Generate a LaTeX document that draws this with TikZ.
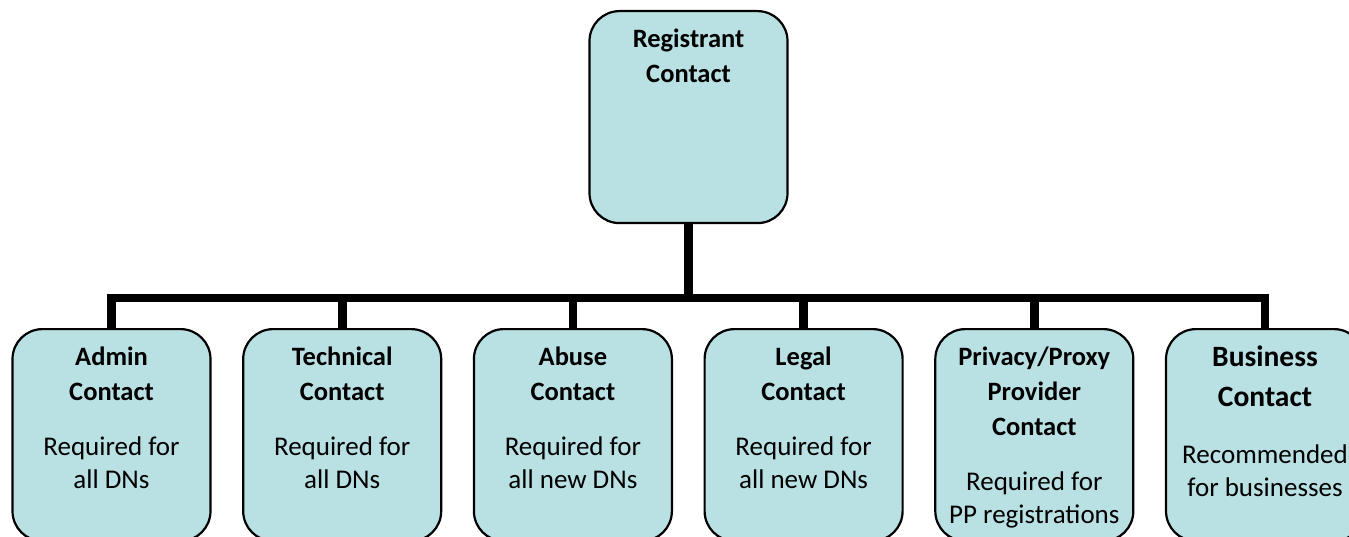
\documentclass[tikz,border=0pt]{standalone}
\usepackage{fontspec}
\setmainfont{Carlito}
\definecolor{boxfill}{HTML}{B9E0E3}
\begin{document}
\begin{tikzpicture}[x=1pt,y=-1pt,
  box/.style={draw=black, line width=2.2pt, fill=boxfill, rounded corners=30pt,
    minimum width=198pt, minimum height=212pt, anchor=north, inner sep=0pt},
  conn/.style={draw=black, line width=8.8pt},
  title/.style={font=\bfseries\fontsize{26.5}{35}\selectfont, align=center, anchor=north, inner sep=0pt},
  bigtitle/.style={font=\bfseries\fontsize{29.5}{40}\selectfont, align=center, anchor=north, inner sep=0pt},
  body/.style={font=\fontsize{27}{33}\selectfont, align=center, anchor=north, inner sep=0pt}]
\useasboundingbox (0,0) rectangle (1349,537);
\clip (0,0) rectangle (1349,537);

% root box
\node[box] (reg) at (688.5,10) {};
\node[title] (regT) at ([yshift=-18.5pt]reg.north) {Registrant\\Contact};

% child boxes
\node[box] (admin) at (111.5,328) {};
\node[box] (tech)  at (342.2,328) {};
\node[box] (abuse) at (572.9,328) {};
\node[box] (legal) at (803.6,328) {};
\node[box] (pp)    at (1034.3,328) {};
\node[box] (biz)   at (1265,328) {};

% connectors
\coordinate (bus) at (688.5,298);
\draw[conn] (reg.south) -- (bus);
\draw[conn] (admin.north) -- (admin.north |- bus) -- (biz.north |- bus) -- (biz.north);
\foreach \n in {tech,abuse,legal,pp}
  \draw[conn] (\n.north |- bus) -- (\n.north);

% labels
\node[title] (adminT) at ([yshift=-18.5pt]admin.north) {Admin\\Contact};
\node[body]  (adminB) at ([yshift=-108.5pt]admin.north) {Required for\\all DNs};
\node[title] (techT) at ([yshift=-18.5pt]tech.north) {Technical\\Contact};
\node[body]  (techB) at ([yshift=-108.5pt]tech.north) {Required for\\all DNs};
\node[title] (abuseT) at ([yshift=-18.5pt]abuse.north) {Abuse\\Contact};
\node[body]  (abuseB) at ([yshift=-108.5pt]abuse.north) {Required for\\all new DNs};
\node[title] (legalT) at ([yshift=-18.5pt]legal.north) {Legal\\Contact};
\node[body]  (legalB) at ([yshift=-108.5pt]legal.north) {Required for\\all new DNs};
\node[title] (ppT) at ([yshift=-18.5pt]pp.north) {Privacy/Proxy\\Provider\\Contact};
\node[body]  (ppB) at ([yshift=-143.5pt]pp.north) {Required for\\PP registrations};
\node[bigtitle] (bizT) at ([yshift=-17.5pt]biz.north) {Business\\Contact};
\node[body]  (bizB) at ([yshift=-116.5pt]biz.north) {Recommended\\for businesses};
\end{tikzpicture}
\end{document}
